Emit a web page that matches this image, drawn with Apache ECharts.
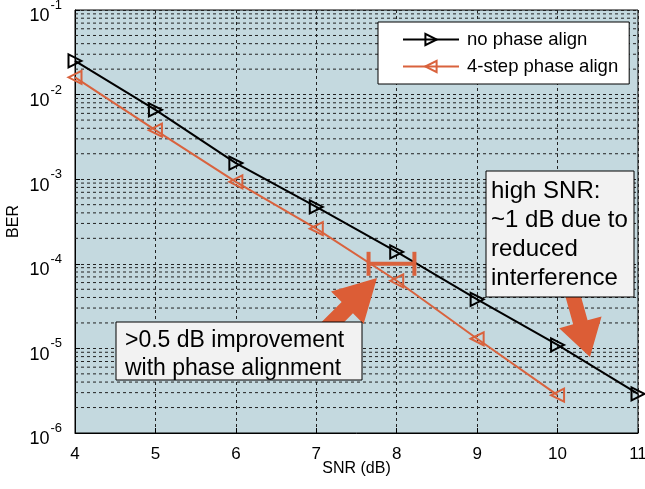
<!DOCTYPE html>
<html>
<head>
<meta charset="utf-8">
<script src="https://cdn.jsdelivr.net/npm/echarts@6/dist/echarts.min.js"></script>
<style>
  html, body { margin: 0; padding: 0; background: #fff; }
  #chart { width: 645px; height: 489px; }
</style>
</head>
<body>
<div id="chart"></div>
<script>
// SNR (dB) on x
const snrNoAlign = [4, 5, 6, 7, 8, 9, 10, 11];
const berNoAlign = [2.5e-2, 6.6e-3, 1.55e-3, 4.7e-4, 1.38e-4, 3.8e-5, 1.1e-5, 2.9e-6];
const snr4Step = [4, 5, 6, 7, 8, 9, 10];
const ber4Step = [1.6e-2, 3.8e-3, 9.3e-4, 2.6e-4, 6.3e-5, 1.3e-5, 2.8e-6];

const seriesNames = ['no phase align', '4-step phase align'];
// log grid minors: 2..9 in every decade
const minorMult = [2, 3, 4, 5, 6, 7, 8, 9];
const decades = [-6, -5, -4, -3, -2];

// the "H" gap marker around BER 1e-4
const gapBar = { x0: 7.65, x1: 8.22, y: 1e-4 };

const FONT = '"Liberation Sans", Arial, sans-serif';
const ORANGE = '#d9623d';
const ARROW = '#dc5d36';
const GRIDLINE = { color: '#222', type: [3, 3], width: 1 };

// one flat dashed series per minor grid value
const minorSeries = [];
decades.forEach(d => minorMult.forEach(m => {
  const v = m * Math.pow(10, d);
  minorSeries.push({
    type: 'line', silent: true, symbol: 'none', z: 1,
    data: [[4, v], [11, v]],
    lineStyle: GRIDLINE
  });
}));

const chart = echarts.init(document.getElementById('chart'), null, { renderer: 'canvas' });

chart.setOption({
  animation: false,
  backgroundColor: '#fff',
  textStyle: { fontFamily: FONT },
  grid: {
    left: 75, right: 7, top: 10, bottom: 56,
    containLabel: false, outerBoundsMode: 'none',
    show: true, backgroundColor: '#c4d9df', borderColor: '#000', borderWidth: 1
  },
  legend: {
    left: 378, top: 22,
    orient: 'vertical',
    backgroundColor: '#fff', borderColor: '#000', borderWidth: 1, borderRadius: 0,
    padding: [8, 11, 8, 24],
    itemWidth: 56, itemHeight: 14, itemGap: 8,
    textStyle: { fontSize: 18.5, color: '#000', fontFamily: FONT, padding: [0, 0, 0, 3] },
    data: seriesNames
  },
  xAxis: {
    type: 'value', min: 4, max: 11, interval: 1,
    name: 'SNR (dB)', nameLocation: 'middle', nameGap: 28, nameMoveOverlap: false,
    nameTextStyle: { fontSize: 16, color: '#000', fontFamily: FONT },
    axisLine: { lineStyle: { color: '#000' } },
    axisTick: { inside: true, length: 5, lineStyle: { color: '#000' } },
    axisLabel: { fontSize: 17, color: '#000', margin: 13, fontFamily: FONT },
    splitLine: { lineStyle: GRIDLINE }
  },
  yAxis: {
    type: 'log', logBase: 10, min: 1e-6, max: 1e-1,
    name: 'BER', nameLocation: 'middle', nameGap: 53, nameMoveOverlap: false,
    nameTextStyle: { fontSize: 16, color: '#000', fontFamily: FONT },
    axisLine: { lineStyle: { color: '#000' } },
    axisTick: { inside: true, length: 5, lineStyle: { color: '#000' } },
    axisLabel: {
      margin: 13, fontSize: 18, color: '#000', fontFamily: FONT,
      formatter: v => '{b|10}{s|' + Math.round(Math.log10(v)) + '}',
      rich: {
        b: { fontSize: 18, lineHeight: 18, color: '#000', fontFamily: FONT, verticalAlign: 'middle', padding: [13, 0, 0, 0] },
        s: { fontSize: 13, lineHeight: 13, color: '#000', fontFamily: FONT, verticalAlign: 'middle', padding: [0, 0, 9, 1] }
      }
    },
    splitLine: { lineStyle: GRIDLINE }
  },
  series: [
    {
      name: seriesNames[0], type: 'line',
      data: snrNoAlign.map((x, i) => [x, berNoAlign[i]]),
      symbol: 'triangle', symbolSize: [13, 13], symbolRotate: -90,
      lineStyle: { color: '#000', width: 2 },
      itemStyle: { color: 'rgba(0,0,0,0)', borderColor: '#000', borderWidth: 2 },
      z: 5
    },
    {
      name: seriesNames[1], type: 'line',
      data: snr4Step.map((x, i) => [x, ber4Step[i]]),
      symbol: 'triangle', symbolSize: [13, 13], symbolRotate: 90,
      lineStyle: { color: ORANGE, width: 2 },
      itemStyle: { color: 'rgba(0,0,0,0)', borderColor: ORANGE, borderWidth: 2 },
      z: 4
    }
  ].concat(minorSeries)
});

function arrowPoints(tail, tip, w, L, h) {
  const dx = tip[0] - tail[0], dy = tip[1] - tail[1];
  const len = Math.hypot(dx, dy);
  const ux = dx / len, uy = dy / len, nx = -uy, ny = ux;
  const b = [tip[0] - ux * L, tip[1] - uy * L];
  return [
    [tail[0] + nx * w, tail[1] + ny * w],
    [b[0] + nx * w, b[1] + ny * w],
    [b[0] + nx * h, b[1] + ny * h],
    tip,
    [b[0] - nx * h, b[1] - ny * h],
    [b[0] - nx * w, b[1] - ny * w],
    [tail[0] - nx * w, tail[1] - ny * w]
  ];
}

const p0 = chart.convertToPixel({ gridIndex: 0 }, [gapBar.x0, gapBar.y]);
const p1 = chart.convertToPixel({ gridIndex: 0 }, [gapBar.x1, gapBar.y]);

const boxText = { fill: '#000', fontFamily: FONT };

chart.setOption({
  graphic: [
    // gap marker
    { type: 'line', z: 30, shape: { x1: p0[0], y1: p0[1], x2: p1[0], y2: p1[1] }, style: { stroke: ORANGE, lineWidth: 4 } },
    { type: 'line', z: 30, shape: { x1: p0[0], y1: p0[1] - 12, x2: p0[0], y2: p0[1] + 12 }, style: { stroke: ORANGE, lineWidth: 4 } },
    { type: 'line', z: 30, shape: { x1: p1[0], y1: p1[1] - 12, x2: p1[0], y2: p1[1] + 12 }, style: { stroke: ORANGE, lineWidth: 4 } },
    // arrows
    { type: 'polygon', z: 30, shape: { points: arrowPoints([310, 345], [377, 278], 8, 42, 23) }, style: { fill: ARROW } },
    { type: 'polygon', z: 30, shape: { points: arrowPoints([570, 285], [590, 357], 7.5, 36, 22) }, style: { fill: ARROW } },
    // text boxes
    { type: 'rect', z: 40, shape: { x: 116, y: 322, width: 246, height: 58 }, style: { fill: '#f2f2f2', stroke: '#000', lineWidth: 1 } },
    { type: 'text', z: 41, left: 125, top: 327, style: Object.assign({ text: '>0.5 dB improvement\nwith phase alignment', fontSize: 23, lineHeight: 28 }, boxText) },
    { type: 'rect', z: 40, shape: { x: 486, y: 171, width: 148, height: 126 }, style: { fill: '#f2f2f2', stroke: '#000', lineWidth: 1 } },
    { type: 'text', z: 41, left: 491, top: 177, style: Object.assign({ text: 'high SNR:\n~1 dB due to\nreduced\ninterference', fontSize: 24, lineHeight: 29 }, boxText) }
  ]
});
</script>
</body>
</html>
